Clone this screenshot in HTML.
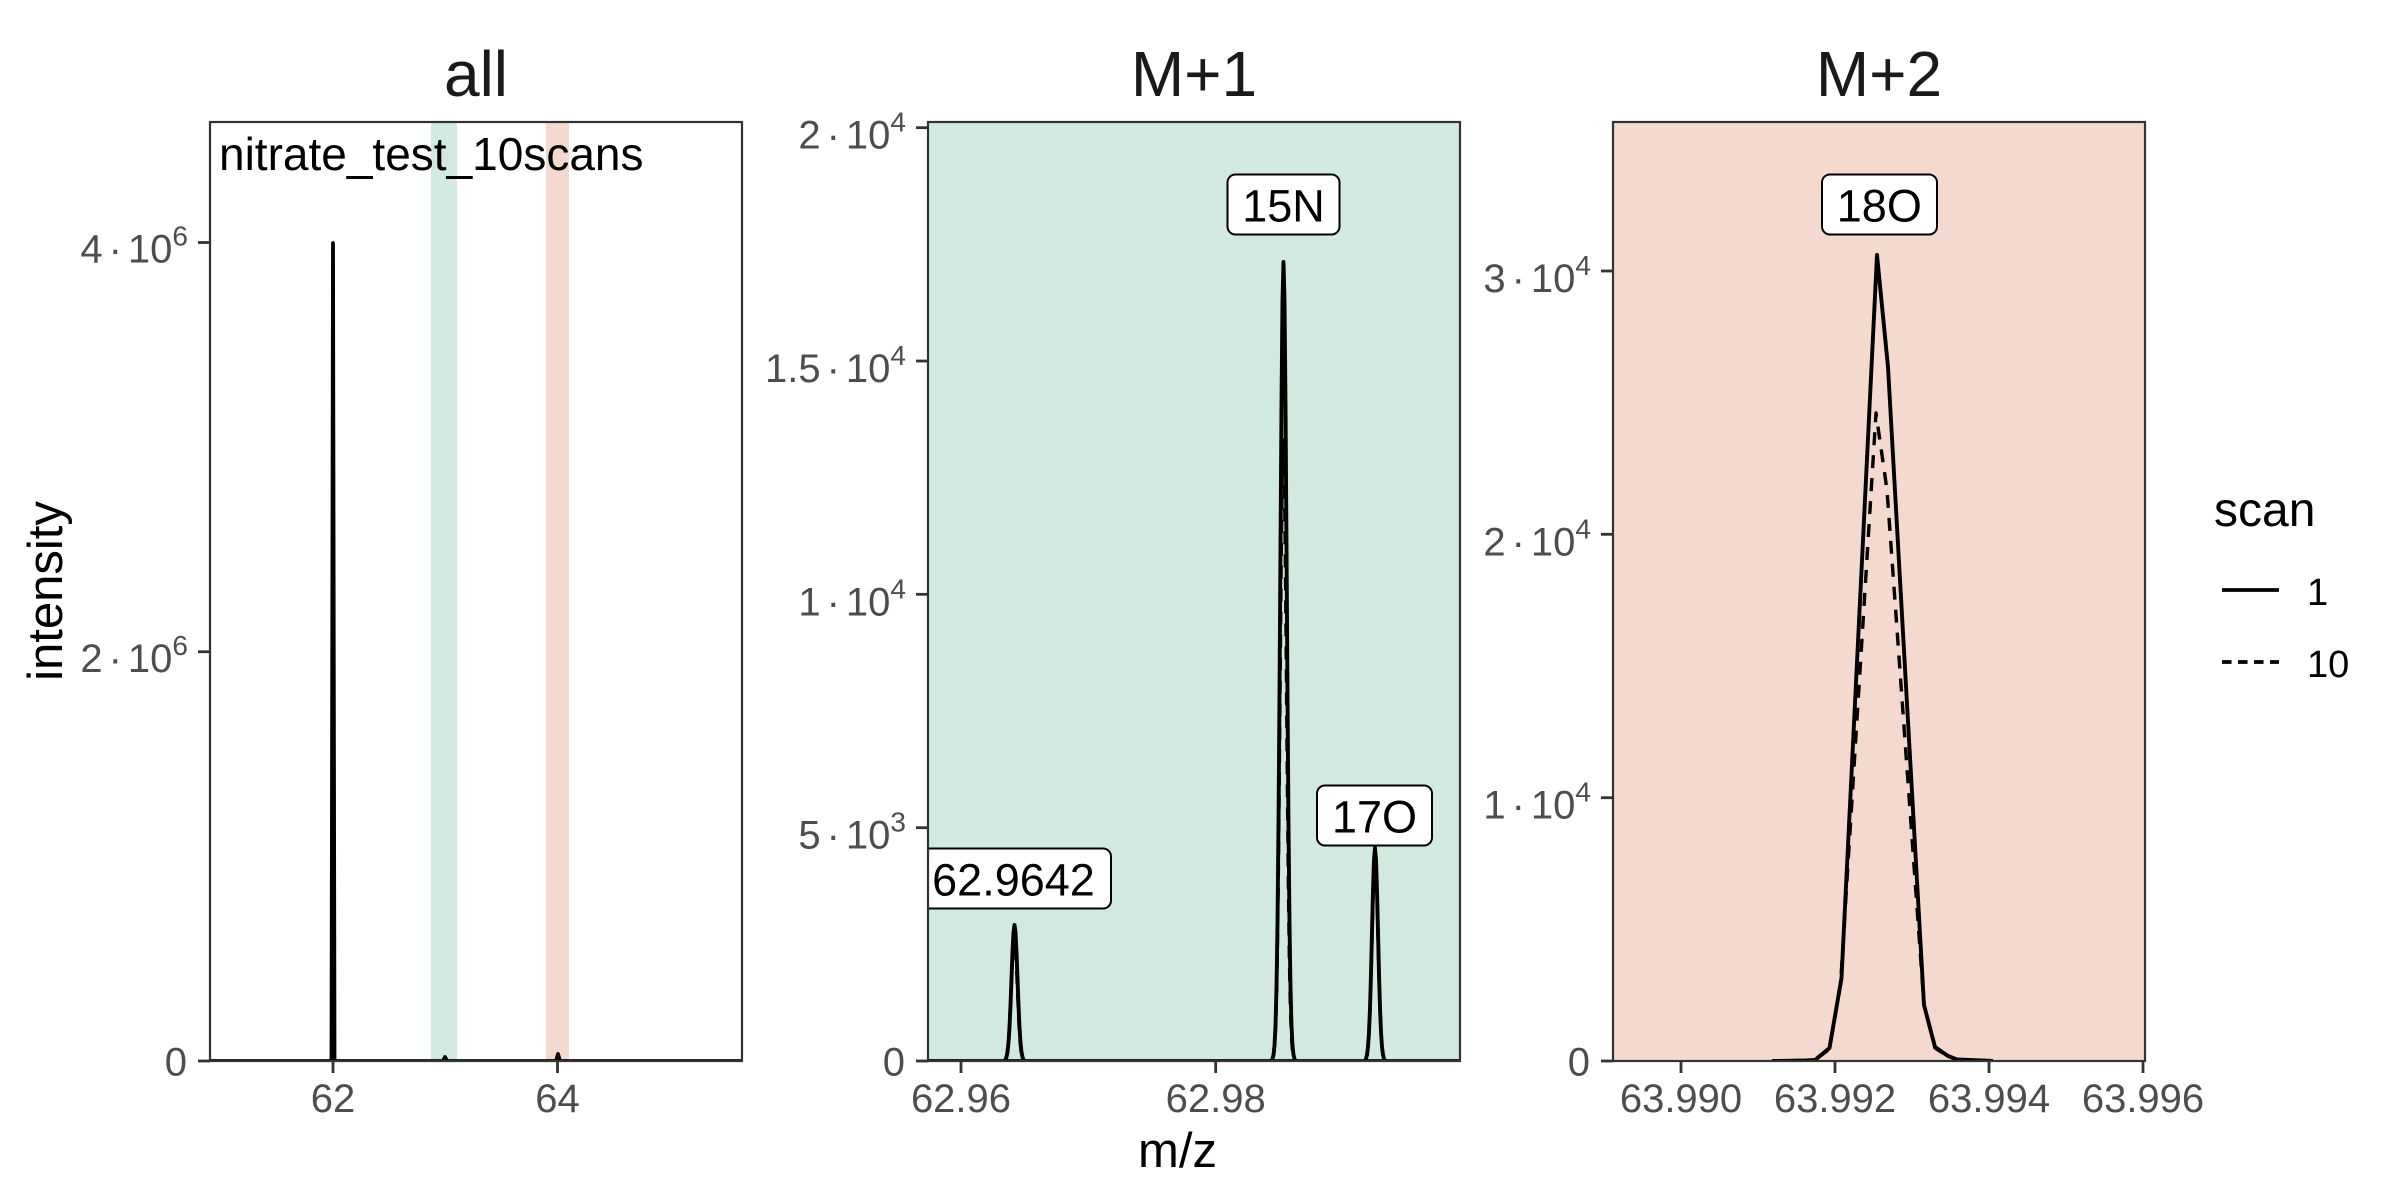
<!DOCTYPE html>
<html>
<head>
<meta charset="utf-8">
<style>
html,body{margin:0;padding:0;background:#fff;}
svg{display:block;}
text{font-family:"Liberation Sans",Arial,Helvetica,sans-serif;}
</style>
</head>
<body>
<svg width="2400" height="1200" viewBox="0 0 2400 1200" xmlns="http://www.w3.org/2000/svg">
<defs>
<clipPath id="c1"><rect x="210" y="122" width="532" height="939.5"/></clipPath>
<clipPath id="c2"><rect x="928" y="122" width="532" height="939.5"/></clipPath>
<clipPath id="c3"><rect x="1613" y="122" width="532" height="939.5"/></clipPath>
</defs>
<rect width="2400" height="1200" fill="#fff"/>

<!-- strip titles -->
<g font-size="64" fill="#1A1A1A" text-anchor="middle">
<text x="476" y="96">all</text>
<text x="1194" y="96">M+1</text>
<text x="1879" y="96">M+2</text>
</g>

<!-- ===== Panel 1 ===== -->
<rect x="210" y="122" width="532" height="939" fill="#fff"/>
<g clip-path="url(#c1)">
<rect x="431" y="122" width="26" height="939" fill="#D2E9E0"/>
<rect x="546" y="122" width="23" height="939" fill="#F4DACE"/>
<path d="M205,1061 L331.5,1061 L333,243 L334.5,1061 L443,1061 L445,1057 L447,1061 L556,1061 L558,1054 L560,1061 L747,1061" fill="none" stroke="#000" stroke-width="3.8" stroke-linejoin="round"/>
<text x="219" y="170" font-size="46" fill="#000">nitrate_test_10scans</text>
</g>
<rect x="210" y="122" width="532" height="939" fill="none" stroke="#333" stroke-width="2.2"/>

<!-- ===== Panel 2 ===== -->
<rect x="928" y="122" width="532" height="939" fill="#D2E9E0"/>
<g clip-path="url(#c2)">
<path d="M920,1061 L1465,1061" stroke="#000" stroke-width="3.8" fill="none"/>
<g fill="none" stroke="#000" stroke-width="3.9" stroke-linejoin="round">
<path d="M1004.5,1061 L1005.5,1059.5 L1006.5,1057.1 L1007.5,1052 L1008.5,1042.6 L1009.5,1027.1 L1010.5,1005.1 L1011.5,978.4 L1012.5,952.1 L1013.5,932.3 L1014.5,925 L1015.5,932.3 L1016.5,952.1 L1017.5,978.4 L1018.5,1005.1 L1019.5,1027.1 L1020.5,1042.6 L1021.5,1052 L1022.5,1057.1 L1023.5,1059.5 L1024.5,1061"/>
<path d="M1271.5,1061 L1272.5,1058.8 L1273.5,1054.9 L1274.5,1045.7 L1275.5,1025.9 L1276.5,988 L1277.5,923.6 L1278.5,825.3 L1279.5,695.1 L1280.5,546.4 L1281.5,403.4 L1282.5,300.4 L1283.5,262 L1284.5,300.4 L1285.5,403.4 L1286.5,546.4 L1287.5,695.1 L1288.5,825.3 L1289.5,923.6 L1290.5,988 L1291.5,1025.9 L1292.5,1045.7 L1293.5,1054.9 L1294.5,1058.8 L1295.5,1061"/>
<path d="M1365,1061 L1366,1058.7 L1367,1054.9 L1368,1046.9 L1369,1032.2 L1370,1008 L1371,973.5 L1372,931.7 L1373,890.4 L1374,859.5 L1375,848 L1376,859.5 L1377,890.4 L1378,931.7 L1379,973.5 L1380,1008 L1381,1032.2 L1382,1046.9 L1383,1054.9 L1384,1058.7 L1385,1061"/>
</g>
<g fill="none" stroke="#000" stroke-width="3.4" stroke-dasharray="13 10" stroke-linejoin="round">
<path d="M1004.3,1061 L1005.3,1059.6 L1006.3,1057.4 L1007.3,1052.75 L1008.3,1044.1 L1009.3,1029.9 L1010.3,1009.6 L1011.3,985.1 L1012.3,960.9 L1013.3,942.75 L1014.3,936 L1015.3,942.75 L1016.3,960.9 L1017.3,985.1 L1018.3,1009.6 L1019.3,1029.9 L1020.3,1044.1 L1021.3,1052.75 L1022.3,1057.4 L1023.3,1059.6 L1024.3,1061"/>
<path d="M1271.3,1061 L1272.3,1059.3 L1273.3,1056.3 L1274.3,1049.1 L1275.3,1033.7 L1276.3,1004.2 L1277.3,954.2 L1278.3,877.8 L1279.3,776.6 L1280.3,661.1 L1281.3,549.9 L1282.3,469.8 L1283.3,440 L1284.3,469.8 L1285.3,549.9 L1286.3,661.1 L1287.3,776.6 L1288.3,877.8 L1289.3,954.2 L1290.3,1004.2 L1291.3,1033.7 L1292.3,1049.1 L1293.3,1056.3 L1294.3,1059.3 L1295.3,1061"/>
<path d="M1365,1061 L1366,1058.7 L1367,1055.1 L1368,1047.5 L1369,1033.3 L1370,1010 L1371,976.7 L1372,936.6 L1373,896.8 L1374,867.1 L1375,856 L1376,867.1 L1377,896.8 L1378,936.6 L1379,976.7 L1380,1010 L1381,1033.3 L1382,1047.5 L1383,1055.1 L1384,1058.7 L1385,1061"/>
</g>
<g font-size="45" fill="#000" text-anchor="middle">
<rect x="914" y="848.5" width="197" height="60" rx="8" fill="#fff" stroke="#000" stroke-width="2"/>
<text x="1013.5" y="895.7">62.9642</text>
<rect x="1227.5" y="174.5" width="112" height="60" rx="8" fill="#fff" stroke="#000" stroke-width="2"/>
<text x="1283.5" y="221.7">15N</text>
<rect x="1317" y="785.5" width="115" height="60" rx="8" fill="#fff" stroke="#000" stroke-width="2"/>
<text x="1374.5" y="832.7">17O</text>
</g>
</g>
<rect x="928" y="122" width="532" height="939" fill="none" stroke="#333" stroke-width="2.2"/>

<!-- ===== Panel 3 ===== -->
<rect x="1613" y="122" width="532" height="939" fill="#F4DACE"/>
<g clip-path="url(#c3)">
<path d="M1772,1061 L1806,1060.5 L1815,1060 L1829.5,1048 L1841.5,978 L1877,255 L1888,367 L1924,1005 L1935,1047 L1948,1056 L1957,1059.5 L1993,1061" fill="none" stroke="#000" stroke-width="3.9" stroke-linejoin="round"/>
<path d="M1772,1061 L1806,1060.5 L1815,1060 L1829.5,1049 L1840.5,985 L1876,413 L1887,490 L1924,1005 L1935,1048 L1948,1056.5 L1957,1059.5 L1993,1061" fill="none" stroke="#000" stroke-width="3.4" stroke-dasharray="13 10" stroke-linejoin="round"/>
<rect x="1822" y="174.5" width="115" height="60" rx="8" fill="#fff" stroke="#000" stroke-width="2"/>
<text x="1879.3" y="221.7" font-size="45" fill="#000" text-anchor="middle">18O</text>
</g>
<rect x="1613" y="122" width="532" height="939" fill="none" stroke="#333" stroke-width="2.2"/>

<!-- ticks -->
<g stroke="#333" stroke-width="2.8">
<line x1="198" y1="1061" x2="210" y2="1061"/>
<line x1="198" y1="651.75" x2="210" y2="651.75"/>
<line x1="198" y1="242.5" x2="210" y2="242.5"/>
<line x1="333" y1="1061" x2="333" y2="1073"/>
<line x1="557.5" y1="1061" x2="557.5" y2="1073"/>
<line x1="916" y1="1061" x2="928" y2="1061"/>
<line x1="916" y1="827.7" x2="928" y2="827.7"/>
<line x1="916" y1="594.3" x2="928" y2="594.3"/>
<line x1="916" y1="361" x2="928" y2="361"/>
<line x1="916" y1="127.7" x2="928" y2="127.7"/>
<line x1="961" y1="1061" x2="961" y2="1073"/>
<line x1="1215.7" y1="1061" x2="1215.7" y2="1073"/>
<line x1="1601" y1="1061" x2="1613" y2="1061"/>
<line x1="1601" y1="797.7" x2="1613" y2="797.7"/>
<line x1="1601" y1="534.3" x2="1613" y2="534.3"/>
<line x1="1601" y1="271" x2="1613" y2="271"/>
<line x1="1681" y1="1061" x2="1681" y2="1073"/>
<line x1="1835" y1="1061" x2="1835" y2="1073"/>
<line x1="1989" y1="1061" x2="1989" y2="1073"/>
<line x1="2143" y1="1061" x2="2143" y2="1073"/>
</g>

<!-- y tick labels -->
<g font-size="40" fill="#4D4D4D" text-anchor="end">
<text x="187" y="1075.3">0</text>
<text x="188" y="671.75">2<tspan dx="6">·</tspan><tspan dx="6">10</tspan><tspan font-size="28" dy="-17">6</tspan></text>
<text x="188" y="262.5">4<tspan dx="6">·</tspan><tspan dx="6">10</tspan><tspan font-size="28" dy="-17">6</tspan></text>

<text x="905" y="1075.3">0</text>
<text x="906" y="848.7">5<tspan dx="6">·</tspan><tspan dx="6">10</tspan><tspan font-size="28" dy="-17">3</tspan></text>
<text x="906" y="615.3">1<tspan dx="6">·</tspan><tspan dx="6">10</tspan><tspan font-size="28" dy="-17">4</tspan></text>
<text x="906" y="382">1.5<tspan dx="6">·</tspan><tspan dx="6">10</tspan><tspan font-size="28" dy="-17">4</tspan></text>
<text x="906" y="148.7">2<tspan dx="6">·</tspan><tspan dx="6">10</tspan><tspan font-size="28" dy="-17">4</tspan></text>

<text x="1590" y="1075.3">0</text>
<text x="1591" y="818.7">1<tspan dx="6">·</tspan><tspan dx="6">10</tspan><tspan font-size="28" dy="-17">4</tspan></text>
<text x="1591" y="555.3">2<tspan dx="6">·</tspan><tspan dx="6">10</tspan><tspan font-size="28" dy="-17">4</tspan></text>
<text x="1591" y="292">3<tspan dx="6">·</tspan><tspan dx="6">10</tspan><tspan font-size="28" dy="-17">4</tspan></text>
</g>

<!-- x tick labels -->
<g font-size="40" fill="#4D4D4D" text-anchor="middle">
<text x="333" y="1112">62</text>
<text x="557.5" y="1112">64</text>
<text x="961" y="1112">62.96</text>
<text x="1215.7" y="1112">62.98</text>
<text x="1681" y="1112">63.990</text>
<text x="1835" y="1112">63.992</text>
<text x="1989" y="1112">63.994</text>
<text x="2143" y="1112">63.996</text>
</g>

<!-- axis titles -->
<text x="1177.5" y="1167" font-size="49" fill="#000" text-anchor="middle">m/z</text>
<text transform="translate(62,591) rotate(-90)" x="0" y="0" font-size="49" fill="#000" text-anchor="middle">intensity</text>

<!-- legend -->
<text x="2214" y="526" font-size="48" fill="#000">scan</text>
<line x1="2222" y1="590" x2="2279" y2="590" stroke="#000" stroke-width="3.8"/>
<text x="2307" y="605" font-size="38" fill="#000">1</text>
<line x1="2222" y1="662" x2="2279" y2="662" stroke="#000" stroke-width="3.8" stroke-dasharray="9.5 6.5"/>
<text x="2307" y="677" font-size="38" fill="#000">10</text>
</svg>
</body>
</html>
